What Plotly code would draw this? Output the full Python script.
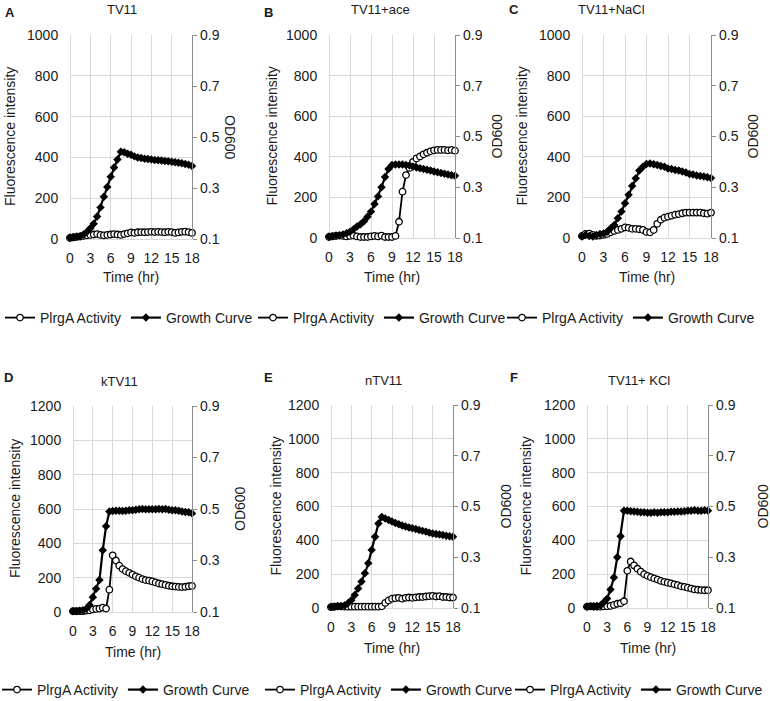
import plotly.graph_objects as go

# ---------------- data ----------------
time_hr = [0, 0.5, 1, 1.5, 2, 2.5, 3, 3.5, 4, 4.5, 5, 5.5, 6, 6.5, 7, 7.5, 8, 8.5,
           9, 9.5, 10, 10.5, 11, 11.5, 12, 12.5, 13, 13.5, 14, 14.5, 15, 15.5, 16,
           16.5, 17, 17.5, 18]

# PlrgA activity (fluorescence intensity, left axis)
plrg_TV11 = [5, 8, 10, 12, 15, 18, 20, 22, 24, 20, 18, 20, 22, 24, 22, 20, 24, 28, 32,
             30, 33, 34, 33, 34, 35, 34, 35, 34, 33, 35, 34, 30, 32, 35, 36, 34, 30]
plrg_TV11_ace = [5, 8, 10, 12, 10, 8, 10, 12, 8, 5, 5, 5, 8, 10, 8, 12, 5, 5, 5, 10,
                 80, 228, 310, 345, 375, 392, 402, 412, 420, 427, 432, 434, 434, 434,
                 432, 434, 430]
plrg_TV11_NaCl = [10, 20, 22, 15, 10, 12, 15, 20, 28, 35, 40, 45, 52, 50, 45, 45, 43,
                  40, 30, 28, 40, 70, 90, 100, 105, 110, 115, 118, 122, 125, 125, 125,
                  125, 125, 122, 120, 125]
plrg_kTV11 = [5, 5, 5, 5, 8, 10, 15, 18, 20, 25, 20, 130, 330, 300, 270, 250, 238, 228,
              218, 208, 200, 192, 186, 183, 178, 172, 166, 162, 158, 153, 150, 148, 146,
              145, 147, 150, 152]
plrg_nTV11 = [5, 8, 10, 10, 8, 8, 8, 8, 8, 8, 8, 8, 8, 8, 8, 10, 30, 45, 55, 58, 60, 55,
              60, 62, 60, 63, 65, 65, 68, 70, 72, 68, 70, 65, 65, 62, 62]
plrg_TV11_KCl = [8, 10, 10, 8, 8, 10, 10, 12, 18, 25, 28, 40, 220, 275, 252, 232, 215,
                 200, 190, 182, 175, 168, 160, 155, 150, 145, 140, 135, 128, 125, 120,
                 115, 110, 108, 106, 105, 105]

# Growth curve (OD600, right axis)
growth_TV11 = [0.106, 0.108, 0.110, 0.112, 0.118, 0.128, 0.142, 0.160, 0.188, 0.224,
               0.266, 0.304, 0.344, 0.380, 0.412, 0.442, 0.440, 0.434, 0.430, 0.424,
               0.420, 0.418, 0.415, 0.414, 0.412, 0.410, 0.409, 0.408, 0.406, 0.405,
               0.403, 0.401, 0.399, 0.397, 0.394, 0.391, 0.386]
growth_TV11_ace = [0.106, 0.108, 0.110, 0.111, 0.114, 0.119, 0.125, 0.134, 0.145, 0.154,
                   0.166, 0.184, 0.204, 0.234, 0.264, 0.300, 0.340, 0.372, 0.388, 0.390,
                   0.390, 0.390, 0.388, 0.386, 0.382, 0.378, 0.375, 0.372, 0.369, 0.366,
                   0.362, 0.359, 0.356, 0.353, 0.350, 0.347, 0.345]
growth_TV11_NaCl = [0.106, 0.112, 0.108, 0.106, 0.112, 0.116, 0.118, 0.125, 0.138, 0.151,
                    0.178, 0.204, 0.237, 0.270, 0.305, 0.335, 0.366, 0.381, 0.392, 0.394,
                    0.391, 0.388, 0.384, 0.381, 0.374, 0.372, 0.368, 0.366, 0.362, 0.358,
                    0.352, 0.350, 0.346, 0.344, 0.342, 0.339, 0.336]
growth_kTV11 = [0.103, 0.103, 0.105, 0.107, 0.113, 0.127, 0.157, 0.190, 0.224, 0.340,
                0.433, 0.490, 0.492, 0.493, 0.493, 0.492, 0.493, 0.495, 0.495, 0.497,
                0.499, 0.500, 0.499, 0.499, 0.499, 0.499, 0.500, 0.499, 0.500, 0.497,
                0.495, 0.495, 0.493, 0.490, 0.488, 0.487, 0.483]
growth_nTV11 = [0.105, 0.105, 0.107, 0.107, 0.110, 0.119, 0.131, 0.151, 0.177, 0.204,
                0.237, 0.276, 0.329, 0.381, 0.433, 0.459, 0.453, 0.447, 0.441, 0.435,
                0.430, 0.425, 0.421, 0.417, 0.414, 0.411, 0.407, 0.404, 0.401, 0.397,
                0.394, 0.392, 0.390, 0.388, 0.385, 0.383, 0.381]
growth_TV11_KCl = [0.105, 0.107, 0.105, 0.108, 0.110, 0.123, 0.137, 0.173, 0.220, 0.300,
                   0.383, 0.483, 0.483, 0.481, 0.480, 0.479, 0.477, 0.477, 0.475, 0.475,
                   0.477, 0.475, 0.477, 0.477, 0.477, 0.479, 0.479, 0.480, 0.480, 0.481,
                   0.483, 0.483, 0.485, 0.483, 0.483, 0.485, 0.483]

panel_letters = ["A", "B", "C", "D", "E", "F"]
panel_titles = ["TV11", "TV11+ace", "TV11+NaCl", "kTV11", "nTV11", "TV11+ KCl"]
fluor_max = [1000, 1000, 1000, 1200, 1200, 1200]
plrg_series = [plrg_TV11, plrg_TV11_ace, plrg_TV11_NaCl, plrg_kTV11, plrg_nTV11, plrg_TV11_KCl]
growth_series = [growth_TV11, growth_TV11_ace, growth_TV11_NaCl, growth_kTV11, growth_nTV11,
                 growth_TV11_KCl]
x_ticks = [0, 3, 6, 9, 12, 15, 18]
od_ticks = [0.1, 0.3, 0.5, 0.7, 0.9]
series_names = ["PlrgA Activity", "Growth Curve"]
x_title = "Time (hr)"
y_title = "Fluorescence intensity"
y2_title = "OD600"

# ---------------- layout geometry (pixels) ----------------
W, H = 770, 701
FONT = "Liberation Sans, Arial, sans-serif"
TXT = "#1a1a1a"
GRID = "#d9d9d9"
AXIS = "#8c8c8c"

boxes = [(70, 192, 35, 239), (329, 455, 35, 238), (582, 711, 35, 238),
         (73, 192, 406, 612), (331, 453, 405, 608), (587, 708, 405, 608)]
title_pos = [(122, 10), (380, 10), (611, 10), (119, 382), (383, 380), (639, 380)]
letter_pos = [(3, 12), (262, 12), (507, 10), (2, 378), (262, 378), (508, 378)]
ylab_x = [10, 272, 522, 15, 275, 525]
od_x = [230, 497, 753, 240, 505, 762]
od_angle = [90, -90, -90, -90, -90, -90]
xlab_y = [277, 277, 277, 652, 648, 648]
legend_pos = [(5, 318), (258, 318), (507, 318), (2, 690), (265, 690), (515, 690)]


def fx(p):
    return p / W


def fy(p):
    return 1 - p / H


fig = go.Figure()
layout = dict(
    width=W, height=H, template="none",
    margin=dict(l=0, r=0, t=0, b=0, autoexpand=False),
    paper_bgcolor="white", plot_bgcolor="white",
    font=dict(family=FONT, size=14, color=TXT),
    showlegend=True,
)
annotations = []

for i in range(6):
    xs = "" if i == 0 else str(i + 1)
    yl = "" if i == 0 else str(2 * i + 1)
    yr = str(2 * i + 2)
    leg = "legend" if i == 0 else f"legend{i + 1}"
    x0, x1, top, bot = boxes[i]

    fig.add_trace(go.Scatter(
        x=time_hr, y=plrg_series[i], name=series_names[0], mode="lines+markers",
        xaxis="x" + xs, yaxis="y" + yl, legend=leg, cliponaxis=False,
        line=dict(color="black", width=1.8),
        marker=dict(symbol="circle", size=6.5, color="white",
                    line=dict(color="black", width=1.3)),
    ))
    fig.add_trace(go.Scatter(
        x=time_hr, y=growth_series[i], name=series_names[1], mode="lines+markers",
        xaxis="x" + xs, yaxis="y" + yr, legend=leg, cliponaxis=False,
        line=dict(color="black", width=2.2),
        marker=dict(symbol="diamond", size=6.5, color="black"),
    ))

    layout["xaxis" + xs] = dict(
        domain=[fx(x0), fx(x1)], anchor="y" + yl, range=[0, 18],
        tickmode="array", tickvals=x_ticks, showgrid=True, gridcolor=GRID, gridwidth=1,
        zeroline=True, zerolinecolor=GRID, zerolinewidth=1, showline=False,
        ticks="outside", ticklen=6, tickcolor="rgba(0,0,0,0)",
        tickfont=dict(size=14, color=TXT), automargin=False, fixedrange=True,
    )
    layout["yaxis" + yl] = dict(
        domain=[fy(bot), fy(top)], anchor="x" + xs, range=[0, fluor_max[i]],
        tickmode="linear", tick0=0, dtick=200, showgrid=True, gridcolor=GRID,
        gridwidth=1, zeroline=True, zerolinecolor=GRID, zerolinewidth=1,
        showline=False, ticks="outside", ticklen=8, tickcolor="rgba(0,0,0,0)",
        tickfont=dict(size=14, color=TXT), automargin=False, fixedrange=True,
    )
    layout["yaxis" + yr] = dict(
        overlaying="y" + yl, anchor="x" + xs, side="right", range=[0.1, 0.9],
        tickmode="array", tickvals=od_ticks, ticktext=[f"{v:.1f}" for v in od_ticks],
        showgrid=False, zeroline=False, showline=True, linecolor=AXIS, linewidth=1.2,
        ticks="outside", ticklen=4, tickcolor=AXIS,
        tickfont=dict(size=14, color=TXT), automargin=False, fixedrange=True,
    )
    lx, ly = legend_pos[i]
    layout[leg] = dict(
        orientation="h", x=fx(lx - 5), y=fy(ly), xanchor="left", yanchor="middle",
        font=dict(size=14, color=TXT, family=FONT), bgcolor="rgba(0,0,0,0)",
        itemwidth=30, itemclick=False, itemdoubleclick=False,
    )

    tx, ty = title_pos[i]
    annotations.append(dict(text=panel_titles[i], x=fx(tx), y=fy(ty), xref="paper",
                            yref="paper", showarrow=False, xanchor="center",
                            yanchor="middle", font=dict(size=13, color=TXT)))
    lx2, ly2 = letter_pos[i]
    annotations.append(dict(text="<b>" + panel_letters[i] + "</b>", x=fx(lx2), y=fy(ly2),
                            xref="paper", yref="paper", showarrow=False, xanchor="left",
                            yanchor="middle", font=dict(size=13, color=TXT)))
    annotations.append(dict(text=y_title, x=fx(ylab_x[i]), y=fy((top + bot) / 2),
                            xref="paper", yref="paper", showarrow=False, xanchor="center",
                            yanchor="middle", textangle=-90, font=dict(size=14, color=TXT)))
    annotations.append(dict(text=y2_title, x=fx(od_x[i]), y=fy((top + bot) / 2),
                            xref="paper", yref="paper", showarrow=False, xanchor="center",
                            yanchor="middle", textangle=od_angle[i],
                            font=dict(size=14, color=TXT)))
    annotations.append(dict(text=x_title, x=fx((x0 + x1) / 2), y=fy(xlab_y[i]),
                            xref="paper", yref="paper", showarrow=False, xanchor="center",
                            yanchor="middle", font=dict(size=14, color=TXT)))

layout["annotations"] = annotations
fig.update_layout(**layout)
fig.write_html(
    "out.html",
    config={"displayModeBar": False, "staticPlot": True},
    post_script="document.body.style.margin='0px';document.body.style.overflow='hidden';",
)
